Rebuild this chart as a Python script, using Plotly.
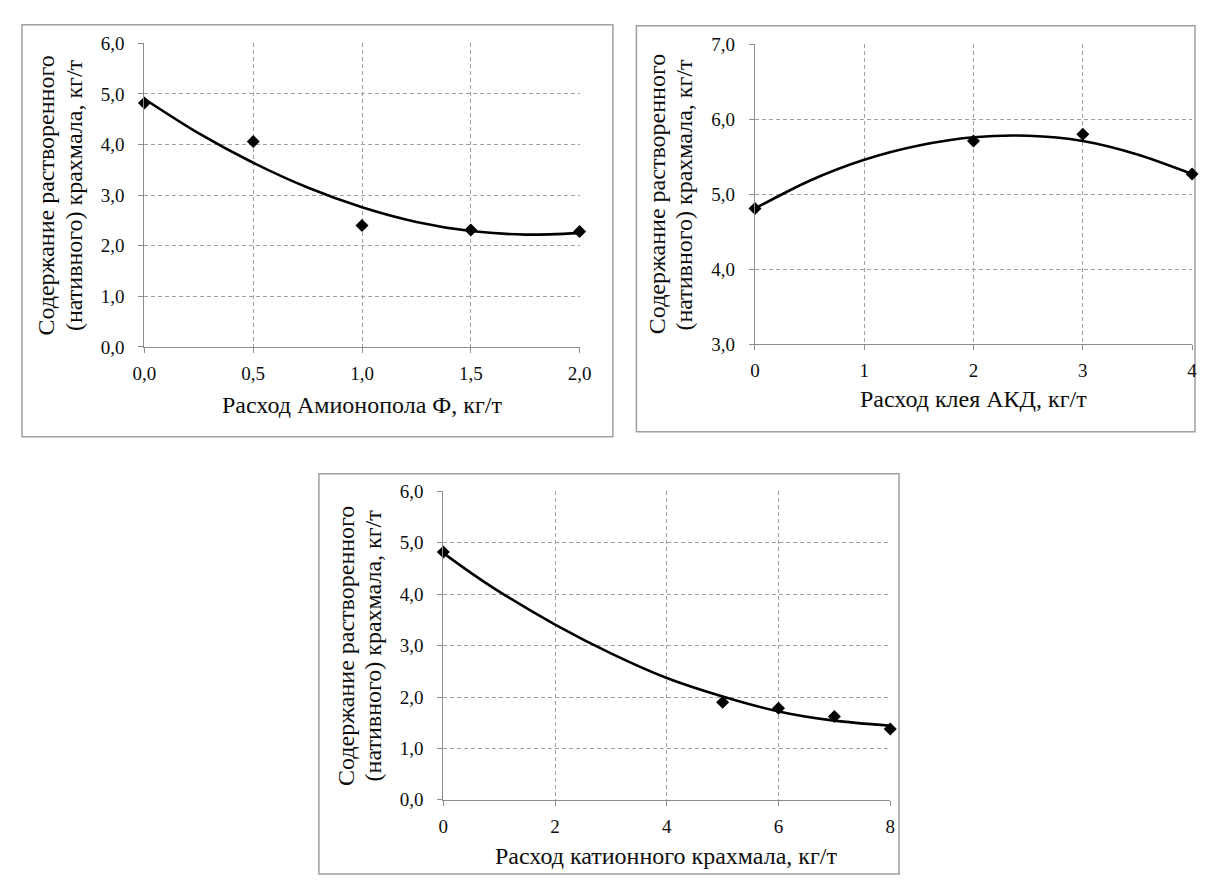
import plotly.graph_objects as go

# page body has an 8px default margin; keep the figure inside the 1215x893 window
OFF = 8
W, H = 1215 - 2 * OFF, 893 - 2 * OFF

# ---------- data ----------
# Panel 1: Амионопол Ф
p1_x = [0.0, 0.5, 1.0, 1.5, 2.0]
p1_y = [4.82, 4.06, 2.40, 2.31, 2.28]
p1_fit_x = [0.0, 0.25, 0.5, 0.75, 1.0, 1.25, 1.5, 1.75, 2.0]
p1_fit_y = [4.90, 4.22, 3.64, 3.15, 2.76, 2.47, 2.29, 2.22, 2.25]
p1_xticks = [0.0, 0.5, 1.0, 1.5, 2.0]
p1_xtext = ["0,0", "0,5", "1,0", "1,5", "2,0"]
p1_yticks = [0, 1, 2, 3, 4, 5, 6]
p1_ytext = ["0,0", "1,0", "2,0", "3,0", "4,0", "5,0", "6,0"]

# Panel 2: клей АКД
p2_x = [0, 2, 3, 4]
p2_y = [4.81, 5.71, 5.80, 5.27]
p2_fit_x = [0.0, 0.5, 1.0, 1.5, 2.0, 2.5, 3.0, 3.5, 4.0]
p2_fit_y = [4.81, 5.18, 5.46, 5.65, 5.76, 5.78, 5.71, 5.53, 5.27]
p2_xticks = [0, 1, 2, 3, 4]
p2_xtext = ["0", "1", "2", "3", "4"]
p2_yticks = [3, 4, 5, 6, 7]
p2_ytext = ["3,0", "4,0", "5,0", "6,0", "7,0"]

# Panel 3: катионный крахмал
p3_x = [0, 5, 6, 7, 8]
p3_y = [4.82, 1.90, 1.78, 1.62, 1.38]
p3_fit_x = [0, 0.5, 1, 2, 3, 4, 5, 6, 7, 8]
p3_fit_y = [4.80, 4.41, 4.05, 3.41, 2.85, 2.37, 2.01, 1.72, 1.54, 1.44]
p3_xticks = [0, 2, 4, 6, 8]
p3_xtext = ["0", "2", "4", "6", "8"]
p3_yticks = [0, 1, 2, 3, 4, 5, 6]
p3_ytext = ["0,0", "1,0", "2,0", "3,0", "4,0", "5,0", "6,0"]

y_title_lines = ["Содержание растворенного", "(нативного) крахмала, кг/т"]
x_titles = ["Расход Амионопола Ф, кг/т", "Расход клея АКД, кг/т", "Расход катионного крахмала, кг/т"]

# ---------- layout geometry (window pixels) ----------
plots = [
    dict(xl=135, xr=579, yt=34, yb=345, xr_=[0, 2], yr_=[0, 6], tdy=60),
    dict(xl=758, xr=1204, yt=35, yb=342, xr_=[0, 4], yr_=[3, 7], tdy=56),
    dict(xl=440, xr=896, yt=493, yb=809, xr_=[0, 8], yr_=[0, 6], tdy=58),
]
frames = [(10, 15, 613, 437), (637, 16, 1213, 432), (313, 475, 905, 891)]

FONT = "Liberation Serif"
GRID = "#a0a0a0"
AXIS = "#8c8c8c"
TXT = "#0d0d0d"


def px(x):
    return min(max((x - OFF) / W, 0), 1)


def py(y):
    return min(max(1 - (y - OFF) / H, 0), 1)


fig = go.Figure()

series = [
    (p1_x, p1_y, p1_fit_x, p1_fit_y, p1_xticks, p1_xtext, p1_yticks, p1_ytext),
    (p2_x, p2_y, p2_fit_x, p2_fit_y, p2_xticks, p2_xtext, p2_yticks, p2_ytext),
    (p3_x, p3_y, p3_fit_x, p3_fit_y, p3_xticks, p3_xtext, p3_yticks, p3_ytext),
]

layout = dict(
    width=W, height=H, margin=dict(l=0, r=0, t=0, b=0),
    paper_bgcolor="white", plot_bgcolor="white", showlegend=False,
    font=dict(family=FONT, color=TXT),
)
annotations = []
shapes = []

for i, (p, s) in enumerate(zip(plots, series)):
    n = "" if i == 0 else str(i + 1)
    xa, ya = "x" + n, "y" + n
    xs, ys, fx, fy, xt, xtt, yt, ytt = s
    fig.add_trace(go.Scatter(x=fx, y=fy, mode="lines",
                             line=dict(color="black", width=2.6, shape="spline", smoothing=0.8),
                             xaxis=xa, yaxis=ya, hoverinfo="skip"))
    fig.add_trace(go.Scatter(x=xs, y=ys, mode="markers", marker=dict(symbol="diamond", size=10, color="black"),
                             xaxis=xa, yaxis=ya, cliponaxis=False))
    common = dict(showgrid=True, gridcolor=GRID, griddash="4px,3px", gridwidth=1,
                  showline=True, linecolor=AXIS, linewidth=1.3, zeroline=False,
                  ticks="outside", ticklen=5, tickcolor=AXIS, tickwidth=1,
                  tickfont=dict(family=FONT, size=19, color=TXT), fixedrange=True)
    layout["xaxis" + n] = dict(common, domain=[px(p["xl"]), px(p["xr"])], range=p["xr_"],
                               tickvals=xt, ticktext=xtt, anchor=ya, ticklabelstandoff=4)
    layout["yaxis" + n] = dict(common, domain=[py(p["yb"]), py(p["yt"])], range=p["yr_"],
                               tickvals=yt, ticktext=ytt, anchor=xa, ticklabelstandoff=10)
    for line_txt, dx in zip(y_title_lines, (-100, -72)):
        annotations.append(dict(text=line_txt, xref="paper", yref="paper", x=px(p["xl"] + dx),
                                y=py((p["yt"] + p["yb"]) / 2), textangle=-90, showarrow=False,
                                xanchor="center", yanchor="middle",
                                font=dict(family=FONT, size=24, color=TXT)))
    annotations.append(dict(text=x_titles[i], xref="paper", yref="paper", x=px((p["xl"] + p["xr"]) / 2),
                            y=py(p["yb"] + p["tdy"]), showarrow=False, xanchor="center", yanchor="middle",
                            font=dict(family=FONT, size=24, color=TXT)))

for (x0, y0, x1, y1) in frames:
    shapes.append(dict(type="rect", xref="paper", yref="paper", x0=px(x0), x1=px(x1),
                       y0=py(y1), y1=py(y0), line=dict(color="#a0a0a0", width=1.5), layer="below"))

layout["annotations"] = annotations
layout["shapes"] = shapes
fig.update_layout(**layout)
fig.write_html("out.html")
